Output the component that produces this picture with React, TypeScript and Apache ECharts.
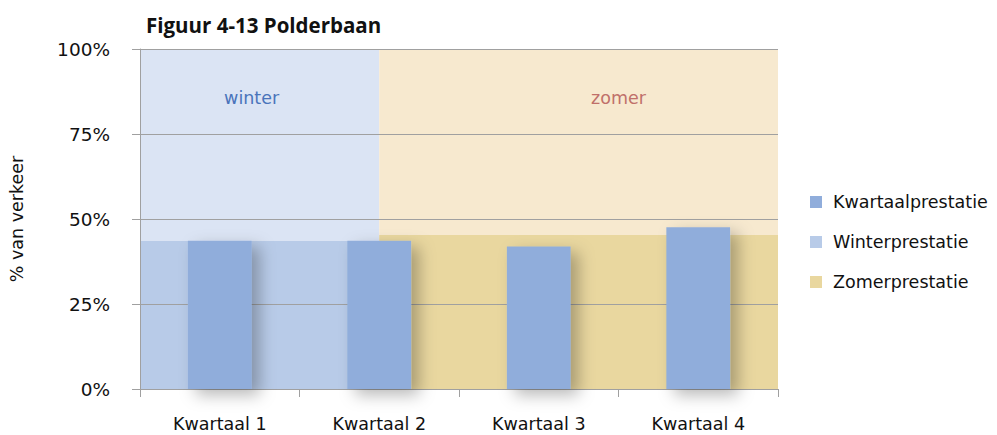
import React, { useEffect, useRef } from "react";
import * as echarts from "echarts";

const categories = ["Kwartaal 1", "Kwartaal 2", "Kwartaal 3", "Kwartaal 4"];
const kwartaalValues = [43.6, 43.6, 41.9, 47.6];
// [start position, end position (in category units), level %, label position]
const winterData = [[0, 1.5, 43.5, 0.7]];
const zomerData = [[1.5, 4, 45.3, 3.0]];
const yTicks = [0, 25, 50, 75, 100];

const FONT = "'DejaVu Sans', 'Open Sans', sans-serif";
const TITLE_FONT = "'Open Sans', 'Noto Sans', sans-serif";

function makeRenderer(bg: string, label: string, labelColor: string) {
  return (params: any, api: any) => {
    const x0 = api.value(0);
    const x1 = api.value(1);
    const v = api.value(2);
    const lx = api.value(3);
    const tl = api.coord([x0, 100]);
    const br = api.coord([x1, 0]);
    const lv = api.coord([x0, v]);
    const lp = api.coord([lx, 85.6]);
    return {
      type: "group",
      children: [
        {
          type: "rect",
          shape: { x: tl[0], y: tl[1], width: br[0] - tl[0], height: br[1] - tl[1] },
          style: { fill: bg },
        },
        {
          type: "rect",
          shape: { x: tl[0], y: lv[1], width: br[0] - tl[0], height: br[1] - lv[1] },
          style: { fill: api.visual("color") },
        },
        {
          type: "text",
          x: lp[0],
          y: lp[1],
          style: {
            text: label,
            fill: labelColor,
            font: `17.5px ${FONT}`,
            textAlign: "center",
            textVerticalAlign: "middle",
          },
        },
      ],
    };
  };
}

export default function App() {
  const ref = useRef<HTMLDivElement>(null);
  useEffect(() => {
    document.body.style.margin = "0";
    if (!ref.current) return;
    const chart = echarts.init(ref.current, undefined, { renderer: "svg" });
    chart.setOption({
      animation: false,
      backgroundColor: "#ffffff",
      title: {
        text: "Figuur 4-13 Polderbaan",
        left: 141,
        top: 9,
        textStyle: { fontFamily: TITLE_FONT, fontWeight: "bold", fontSize: 20.5, color: "#111" },
      },
      grid: { left: 139, right: 219, top: 49, bottom: 46 },
      legend: {
        orient: "vertical",
        left: 805,
        top: 188,
        itemWidth: 12,
        itemHeight: 12,
        itemGap: 22,
        icon: "rect",
        data: ["Kwartaalprestatie", "Winterprestatie", "Zomerprestatie"],
        textStyle: { fontFamily: FONT, fontSize: 17.5, color: "#111", padding: [0, 0, 0, 6] },
      },
      xAxis: [
        {
          type: "category",
          data: categories,
          z: 2,
          axisLine: { show: true, lineStyle: { color: "#a0a0a0" } },
          axisTick: { show: true, length: 8, lineStyle: { color: "#a0a0a0" } },
          axisLabel: { fontFamily: FONT, fontSize: 17.5, color: "#111", margin: 26 },
        },
        {
          type: "value",
          min: 0,
          max: 4,
          show: false,
        },
      ],
      yAxis: {
        type: "value",
        min: 0,
        max: 100,
        interval: 25,
        z: 2,
        name: "% van verkeer",
        nameLocation: "middle",
        nameRotate: 90,
        nameGap: 114,
        nameTextStyle: { fontFamily: FONT, fontSize: 17.5, color: "#111" },
        axisLine: { show: true, lineStyle: { color: "#a0a0a0" } },
        axisTick: { show: true, length: 8, lineStyle: { color: "#a0a0a0" } },
        axisLabel: {
          fontFamily: FONT,
          fontSize: 18.5,
          color: "#111",
          margin: 30,
          formatter: (v: number) => (yTicks.includes(v) ? `${v}%` : ""),
        },
        splitLine: { show: true, lineStyle: { color: "#a0a0a0" } },
      },
      series: [
        {
          name: "Winterprestatie",
          type: "custom",
          xAxisIndex: 1,
          z: 1,
          itemStyle: { color: "#b8cbe8" },
          renderItem: makeRenderer("#dbe4f4", "winter", "#4a74bb"),
          encode: { x: [0, 1, 3], y: 2 },
          data: winterData,
        },
        {
          name: "Zomerprestatie",
          type: "custom",
          xAxisIndex: 1,
          z: 1,
          itemStyle: { color: "#e9d79f" },
          renderItem: makeRenderer("#f7e9cf", "zomer", "#c0706a"),
          encode: { x: [0, 1, 3], y: 2 },
          data: zomerData,
        },
        {
          name: "Kwartaalprestatie",
          type: "bar",
          xAxisIndex: 0,
          z: 3,
          barWidth: "40%",
          itemStyle: {
            color: "#90addb",
            shadowBlur: 16,
            shadowColor: "rgba(0,0,0,0.28)",
            shadowOffsetX: 8,
            shadowOffsetY: 6,
          },
          data: kwartaalValues,
        },
      ],
    });
    return () => chart.dispose();
  }, []);
  return <div ref={ref} style={{ width: 997, height: 435 }} />;
}
